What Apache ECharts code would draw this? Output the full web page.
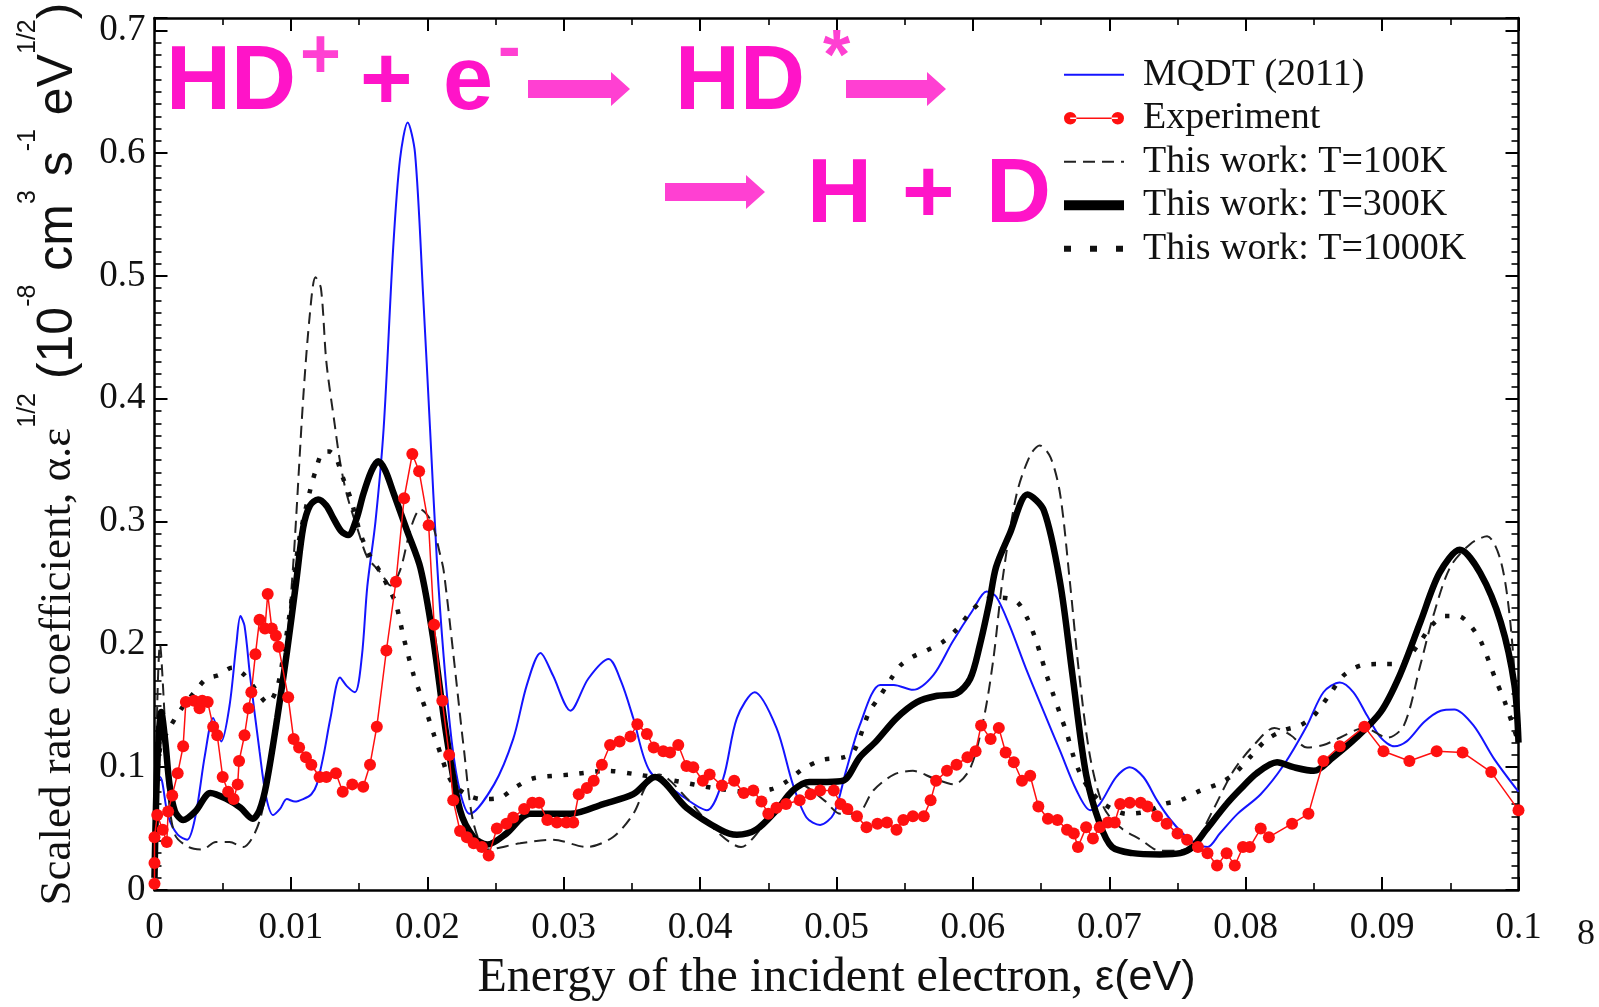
<!DOCTYPE html>
<html>
<head>
<meta charset="utf-8">
<script src="https://cdn.jsdelivr.net/npm/echarts@6/dist/echarts.min.js"></script>
<style>html,body{margin:0;padding:0;background:#fff}#c{width:1599px;height:1007px}</style>
</head>
<body>
<div id="c"></div>
<script>
const xTickLabels = ['0','0.01','0.02','0.03','0.04','0.05','0.06','0.07','0.08','0.09','0.1'];
const yTickLabels = ['0','0.1','0.2','0.3','0.4','0.5','0.6','0.7'];
const seriesNames = ['MQDT (2011)','Experiment','This work: T=100K','This work: T=300K','This work: T=1000K'];

const mqdt = [[0,0.085],[0.0004,0.092],[0.001,0.06],[0.0017,0.045],[0.0024,0.041],[0.003,0.06],[0.0037,0.11],[0.0043,0.14],[0.0049,0.121],[0.0055,0.15],[0.006,0.2],[0.0063,0.223],[0.0066,0.215],[0.007,0.175],[0.0077,0.113],[0.0082,0.075],[0.0087,0.061],[0.0092,0.066],[0.0097,0.074],[0.0103,0.072],[0.0109,0.074],[0.0115,0.078],[0.0119,0.086],[0.0124,0.11],[0.0129,0.14],[0.0136,0.173],[0.0141,0.166],[0.0147,0.161],[0.0152,0.19],[0.0156,0.247],[0.0162,0.3],[0.0168,0.376],[0.0175,0.523],[0.018,0.595],[0.01856,0.625],[0.0191,0.6],[0.0197,0.483],[0.0202,0.376],[0.0207,0.269],[0.0212,0.19],[0.0218,0.12],[0.0224,0.08],[0.0231,0.062],[0.0249,0.086],[0.0263,0.123],[0.0273,0.167],[0.0283,0.193],[0.0292,0.175],[0.0305,0.146],[0.0318,0.172],[0.0333,0.188],[0.0342,0.17],[0.0351,0.14],[0.0363,0.097],[0.0385,0.078],[0.0405,0.065],[0.0417,0.091],[0.0427,0.14],[0.044,0.161],[0.0456,0.132],[0.0468,0.086],[0.0478,0.059],[0.0488,0.053],[0.0498,0.062],[0.0507,0.097],[0.0517,0.134],[0.0532,0.167],[0.0542,0.167],[0.0556,0.163],[0.0571,0.175],[0.0585,0.202],[0.06,0.228],[0.061,0.243],[0.0617,0.239],[0.0627,0.215],[0.0639,0.18],[0.0652,0.145],[0.0664,0.113],[0.0676,0.081],[0.0686,0.065],[0.0693,0.07],[0.0705,0.092],[0.0715,0.1],[0.0725,0.092],[0.0735,0.073],[0.0745,0.057],[0.0757,0.043],[0.0772,0.035],[0.0781,0.046],[0.0794,0.062],[0.0811,0.078],[0.0828,0.102],[0.0845,0.134],[0.0857,0.161],[0.0869,0.169],[0.0879,0.161],[0.0889,0.142],[0.0899,0.124],[0.0909,0.117],[0.0918,0.121],[0.0931,0.137],[0.0943,0.146],[0.0953,0.147],[0.0967,0.134],[0.0982,0.107],[0.1,0.08]];

const experiment = [[0,0.005],[0,0.022],[0,0.043],[0.0002,0.061],[0.0006,0.049],[0.0009,0.039],[0.001,0.064],[0.0013,0.077],[0.0017,0.095],[0.0021,0.117],[0.0023,0.153],[0.0029,0.154],[0.0033,0.148],[0.0035,0.154],[0.0039,0.153],[0.0043,0.133],[0.0046,0.126],[0.005,0.092],[0.0054,0.08],[0.0058,0.074],[0.0061,0.086],[0.0062,0.105],[0.0066,0.126],[0.0069,0.148],[0.0071,0.161],[0.0074,0.192],[0.0077,0.22],[0.0081,0.213],[0.0083,0.241],[0.0086,0.213],[0.0089,0.207],[0.0091,0.198],[0.0098,0.157],[0.0102,0.123],[0.0106,0.116],[0.0111,0.108],[0.0115,0.102],[0.0121,0.092],[0.0126,0.092],[0.0133,0.095],[0.0138,0.08],[0.0145,0.086],[0.0153,0.084],[0.0158,0.102],[0.0163,0.133],[0.017,0.195],[0.0177,0.251],[0.0183,0.319],[0.0189,0.355],[0.0194,0.341],[0.0201,0.297],[0.0205,0.216],[0.0211,0.154],[0.0216,0.11],[0.0219,0.073],[0.0224,0.048],[0.0229,0.043],[0.0234,0.038],[0.024,0.035],[0.0245,0.028],[0.0251,0.05],[0.0258,0.054],[0.0263,0.059],[0.0271,0.066],[0.0277,0.071],[0.0282,0.071],[0.0288,0.057],[0.0295,0.055],[0.0302,0.055],[0.0307,0.055],[0.0311,0.078],[0.0317,0.083],[0.0322,0.089],[0.0328,0.102],[0.0334,0.118],[0.0341,0.121],[0.0349,0.125],[0.0354,0.135],[0.0361,0.127],[0.0366,0.116],[0.0373,0.113],[0.0378,0.112],[0.0384,0.118],[0.039,0.101],[0.0395,0.1],[0.0402,0.089],[0.0407,0.094],[0.0416,0.085],[0.0425,0.089],[0.0432,0.079],[0.0439,0.081],[0.0445,0.072],[0.045,0.062],[0.0456,0.067],[0.0463,0.07],[0.0473,0.073],[0.0481,0.078],[0.0488,0.081],[0.0498,0.081],[0.0503,0.07],[0.0508,0.066],[0.0515,0.06],[0.0522,0.051],[0.053,0.054],[0.0537,0.055],[0.0544,0.049],[0.0549,0.057],[0.0556,0.06],[0.0564,0.06],[0.0569,0.073],[0.0573,0.089],[0.0581,0.097],[0.0588,0.102],[0.0596,0.108],[0.0602,0.113],[0.0606,0.134],[0.0613,0.123],[0.0619,0.132],[0.0624,0.112],[0.063,0.104],[0.0636,0.089],[0.0642,0.093],[0.0648,0.068],[0.0655,0.058],[0.0662,0.057],[0.0669,0.049],[0.0674,0.046],[0.0677,0.035],[0.0683,0.051],[0.0688,0.042],[0.0693,0.051],[0.0699,0.055],[0.0704,0.055],[0.0708,0.07],[0.0715,0.071],[0.0723,0.071],[0.0728,0.068],[0.0735,0.06],[0.0742,0.054],[0.075,0.046],[0.0757,0.041],[0.0765,0.035],[0.0772,0.03],[0.0779,0.02],[0.0786,0.03],[0.0792,0.02],[0.0798,0.035],[0.0803,0.035],[0.0811,0.05],[0.0817,0.043],[0.0834,0.054],[0.0846,0.062],[0.0857,0.105],[0.0869,0.117],[0.0887,0.133],[0.0901,0.113],[0.092,0.105],[0.094,0.113],[0.0959,0.112],[0.098,0.096],[0.1,0.065]];

const t100 = [[0,0.0],[0.0002,0.15],[0.0004,0.2],[0.0007,0.15],[0.001,0.08],[0.0015,0.045],[0.0025,0.035],[0.0035,0.033],[0.0045,0.039],[0.0055,0.039],[0.0065,0.035],[0.0072,0.043],[0.0078,0.06],[0.0085,0.1],[0.0092,0.15],[0.0097,0.2],[0.0102,0.27],[0.0109,0.4],[0.0114,0.47],[0.0118,0.499],[0.0122,0.49],[0.0126,0.43],[0.0132,0.38],[0.0136,0.349],[0.0141,0.322],[0.015,0.29],[0.0156,0.271],[0.0166,0.258],[0.0173,0.248],[0.018,0.26],[0.0188,0.295],[0.0195,0.31],[0.0203,0.3],[0.0209,0.275],[0.0212,0.26],[0.0219,0.193],[0.0227,0.113],[0.0234,0.054],[0.0244,0.033],[0.0268,0.038],[0.0292,0.041],[0.0317,0.035],[0.0336,0.043],[0.0351,0.062],[0.0361,0.086],[0.037,0.094],[0.039,0.075],[0.041,0.05],[0.043,0.035],[0.0444,0.049],[0.0459,0.07],[0.0473,0.086],[0.0491,0.073],[0.0503,0.062],[0.0515,0.062],[0.0527,0.081],[0.0542,0.094],[0.0556,0.097],[0.0571,0.091],[0.0586,0.086],[0.0598,0.099],[0.0608,0.14],[0.0615,0.188],[0.0622,0.255],[0.0632,0.322],[0.0642,0.354],[0.0649,0.362],[0.0657,0.352],[0.0664,0.322],[0.0671,0.252],[0.0678,0.175],[0.0686,0.108],[0.0696,0.067],[0.0708,0.051],[0.0723,0.041],[0.0737,0.032],[0.075,0.032],[0.0762,0.037],[0.0776,0.065],[0.0791,0.097],[0.0806,0.118],[0.0821,0.132],[0.0833,0.126],[0.0845,0.116],[0.0857,0.118],[0.0869,0.124],[0.0887,0.132],[0.0904,0.124],[0.0916,0.134],[0.0928,0.183],[0.0938,0.225],[0.095,0.263],[0.0965,0.282],[0.0977,0.288],[0.0987,0.268],[0.0994,0.218],[0.1,0.13]];

const t300 = [[0,0.01],[0.0002,0.1],[0.0005,0.145],[0.0008,0.12],[0.0011,0.086],[0.0015,0.064],[0.0021,0.057],[0.003,0.064],[0.0041,0.079],[0.0053,0.074],[0.0063,0.067],[0.0072,0.058],[0.0077,0.065],[0.0082,0.086],[0.009,0.14],[0.0097,0.193],[0.0104,0.252],[0.0109,0.295],[0.0114,0.313],[0.012,0.318],[0.0126,0.313],[0.0131,0.303],[0.0137,0.292],[0.0142,0.289],[0.0148,0.302],[0.0153,0.322],[0.0159,0.341],[0.0164,0.349],[0.0169,0.342],[0.0175,0.324],[0.0185,0.293],[0.0195,0.262],[0.0204,0.207],[0.0214,0.126],[0.0224,0.065],[0.0234,0.043],[0.0244,0.037],[0.0258,0.046],[0.0275,0.062],[0.0305,0.062],[0.0329,0.07],[0.0351,0.078],[0.0367,0.092],[0.039,0.067],[0.0415,0.049],[0.0427,0.045],[0.0441,0.049],[0.0456,0.065],[0.0468,0.081],[0.048,0.088],[0.0493,0.088],[0.0505,0.089],[0.0517,0.108],[0.0529,0.121],[0.0544,0.14],[0.0559,0.153],[0.0573,0.158],[0.0588,0.16],[0.0598,0.172],[0.0605,0.199],[0.0612,0.234],[0.0617,0.263],[0.0627,0.29],[0.064,0.322],[0.0652,0.309],[0.0664,0.25],[0.0673,0.175],[0.0683,0.094],[0.0693,0.054],[0.0702,0.035],[0.0717,0.03],[0.0737,0.029],[0.0752,0.03],[0.0761,0.035],[0.0771,0.049],[0.0786,0.07],[0.0796,0.082],[0.0808,0.095],[0.0823,0.104],[0.0835,0.1],[0.085,0.097],[0.0864,0.108],[0.0881,0.124],[0.0899,0.145],[0.0913,0.175],[0.0928,0.218],[0.0942,0.258],[0.0957,0.277],[0.0972,0.258],[0.0987,0.218],[0.0997,0.167],[0.1,0.12]];

const t1000 = [[0,0.06],[0.0004,0.115],[0.001,0.13],[0.002,0.148],[0.003,0.162],[0.0038,0.172],[0.0047,0.175],[0.0057,0.181],[0.0066,0.175],[0.0075,0.162],[0.0083,0.152],[0.009,0.165],[0.0095,0.195],[0.0101,0.24],[0.0106,0.285],[0.0114,0.325],[0.0118,0.341],[0.0123,0.356],[0.0128,0.357],[0.0133,0.352],[0.0138,0.336],[0.0144,0.318],[0.0151,0.29],[0.0158,0.272],[0.0166,0.258],[0.0172,0.245],[0.0177,0.233],[0.0183,0.204],[0.019,0.175],[0.0195,0.159],[0.02,0.143],[0.0205,0.126],[0.021,0.11],[0.0215,0.094],[0.022,0.085],[0.023,0.077],[0.024,0.074],[0.0253,0.075],[0.0265,0.084],[0.0278,0.091],[0.0305,0.094],[0.0332,0.097],[0.0354,0.094],[0.0381,0.089],[0.041,0.083],[0.0435,0.08],[0.0452,0.082],[0.0463,0.088],[0.0476,0.099],[0.049,0.106],[0.0505,0.108],[0.0512,0.112],[0.0517,0.124],[0.0524,0.145],[0.0532,0.158],[0.054,0.172],[0.0547,0.183],[0.0556,0.19],[0.0566,0.195],[0.0578,0.202],[0.0588,0.212],[0.0598,0.226],[0.0608,0.236],[0.062,0.238],[0.0632,0.235],[0.064,0.221],[0.0646,0.204],[0.065,0.19],[0.0654,0.175],[0.0659,0.159],[0.0664,0.143],[0.0669,0.127],[0.0674,0.108],[0.0679,0.094],[0.0686,0.081],[0.0696,0.07],[0.0713,0.062],[0.0728,0.064],[0.074,0.07],[0.0752,0.073],[0.0767,0.081],[0.0779,0.086],[0.0791,0.094],[0.0803,0.108],[0.0815,0.122],[0.0828,0.13],[0.084,0.134],[0.085,0.142],[0.0862,0.16],[0.0872,0.175],[0.0885,0.183],[0.0899,0.184],[0.0913,0.184],[0.0926,0.199],[0.0936,0.215],[0.0946,0.223],[0.0956,0.223],[0.0965,0.215],[0.0973,0.201],[0.0983,0.172],[0.099,0.153],[0.1,0.12]];

const SERIF = 'Liberation Serif';
const SANS = 'Liberation Sans';
const PINK = '#ff14c8';
const PINK2 = '#ff40d2';

const chart = echarts.init(document.getElementById('c'), null, {renderer: 'canvas'});

function labelFrom(arr, step) {
  return function (v) {
    const i = Math.round(v / step);
    if (Math.abs(v - i * step) > 1e-7 || i < 0 || i >= arr.length) return '';
    return arr[i];
  };
}

const axisLineStyle = {show: true, onZero: false, lineStyle: {color: '#000', width: 2.5}};
const noLine = {show: false, onZero: false};
const majorTick = {show: true, inside: true, length: 13, lineStyle: {color: '#000', width: 2}};
const minorTickY = {show: true, inside: true, length: 7, lineStyle: {color: '#000', width: 1.6}};
const minorTickX = {show: true, splitNumber: 2, length: 7, lineStyle: {color: '#000', width: 1.6}};

function arrow(x1, x2, y) {
  const sh = 9, hl = 19, hh = 17;
  return {type: 'polygon', shape: {points: [[x1, y - sh], [x2 - hl, y - sh], [x2 - hl, y - hh], [x2, y], [x2 - hl, y + hh], [x2 - hl, y + sh], [x1, y + sh]]},
    style: {fill: PINK2}, z: 100};
}
function ptxt(s, x, y, size, color) {
  return {type: 'text', x: x, y: y, z: 100,
    style: {text: s, fontSize: size, fontWeight: 'bold', fontFamily: SANS, fill: color,
      textAlign: 'left', textVerticalAlign: 'middle', align: 'left', verticalAlign: 'middle'}};
}

const expIcon = 'path://M1,7 a6,6 0 1,0 12,0 a6,6 0 1,0 -12,0 Z M47,7 a6,6 0 1,0 12,0 a6,6 0 1,0 -12,0 Z M7,6.2 L53,6.2 L53,7.8 L7,7.8 Z';

const option = {
  animation: false,
  backgroundColor: '#fff',
  grid: {left: 154.5, right: 80.5, top: 18, bottom: 105.3, containLabel: false},
  xAxis: [
    {type: 'value', min: 0, max: 0.1, interval: 0.01, position: 'bottom',
      axisLine: axisLineStyle, axisTick: majorTick, minorTick: minorTickX,
      splitLine: {show: false}, minorSplitLine: {show: false},
      axisLabel: {show: true, margin: 20, formatter: labelFrom(xTickLabels, 0.01), fontFamily: SERIF, fontSize: 37, color: '#111'},
      name: '{a|Energy of the incident electron, }{b|ε(eV)}', nameLocation: 'middle', nameGap: 64,
      nameTextStyle: {rich: {a: {fontFamily: SERIF, fontSize: 48, color: '#111'}, b: {fontFamily: SANS, fontSize: 43, color: '#111'}}}
    },
    {type: 'value', min: 0, max: 0.1, interval: 0.01, position: 'top',
      axisLine: axisLineStyle, axisTick: majorTick, minorTick: minorTickX,
      splitLine: {show: false}, axisLabel: {show: false}}
  ],
  yAxis: [
    {type: 'value', min: 0, max: 0.71, interval: 0.1, position: 'left',
      axisLine: axisLineStyle, axisTick: majorTick, splitLine: {show: false},
      axisLabel: {show: true, margin: 9, formatter: labelFrom(yTickLabels, 0.1), fontFamily: SERIF, fontSize: 37, color: '#111'},
      name: '{a|Scaled rate coefficient, α.ε}{s|1/2}{b| (10}{s|-8}{b| cm}{s|3}{b| s}{s|-1}{b| eV}{s|1/2}{b|)}',
      nameLocation: 'middle', nameRotate: 90, nameGap: 53,
      nameTextStyle: {rich: {
        a: {fontFamily: SERIF, fontSize: 45, color: '#111', lineHeight: 86},
        b: {fontFamily: SANS, fontSize: 50, color: '#111', lineHeight: 86},
        s: {fontFamily: SANS, fontSize: 25, color: '#111', verticalAlign: 'top'}
      }}
    },
    {type: 'value', min: 0, max: 0.71, interval: 0.1, position: 'right',
      axisLine: axisLineStyle, axisTick: majorTick, splitLine: {show: false}, axisLabel: {show: false}},
    {type: 'value', min: 0, max: 0.71, interval: 0.01, position: 'left',
      axisLine: noLine, axisTick: minorTickY, splitLine: {show: false}, axisLabel: {show: false}},
    {type: 'value', min: 0, max: 0.71, interval: 0.01, position: 'right',
      axisLine: noLine, axisTick: minorTickY, splitLine: {show: false}, axisLabel: {show: false}}
  ],
  legend: {
    orient: 'vertical', left: 1059, top: 53, padding: 0, itemGap: 0,
    itemWidth: 60, itemHeight: 14,
    textStyle: {fontFamily: SERIF, fontSize: 38, color: '#111', lineHeight: 43.5, padding: [0, 0, 0, 14]},
    data: [
      {name: seriesNames[0], itemStyle: {opacity: 0}, lineStyle: {width: 2}},
      {name: seriesNames[1], icon: expIcon},
      {name: seriesNames[2], itemStyle: {opacity: 0}, lineStyle: {width: 2.2}},
      {name: seriesNames[3], itemStyle: {opacity: 0}, lineStyle: {width: 10}},
      {name: seriesNames[4], itemStyle: {opacity: 0}, lineStyle: {width: 6, type: [7, 19]}}
    ]
  },
  series: [
    {name: seriesNames[0], type: 'line', data: mqdt, symbol: 'none', smooth: 0.3, z: 2,
      lineStyle: {color: '#1414ff', width: 2}, itemStyle: {color: '#1414ff'}},
    {name: seriesNames[2], type: 'line', data: t100, symbol: 'none', smooth: 0.3, z: 3,
      lineStyle: {color: '#222', width: 2, type: [12, 7]}, itemStyle: {color: '#222'}},
    {name: seriesNames[4], type: 'line', data: t1000, symbol: 'none', smooth: 0.3, z: 3,
      lineStyle: {color: '#111', width: 4.5, type: [4.5, 11.5]}, itemStyle: {color: '#111'}},
    {name: seriesNames[3], type: 'line', data: t300, symbol: 'none', smooth: 0.3, z: 4,
      lineStyle: {color: '#000', width: 6.5}, itemStyle: {color: '#000'}},
    {name: seriesNames[1], type: 'line', data: experiment, symbol: 'circle', symbolSize: 12, z: 5,
      lineStyle: {color: '#ff1010', width: 1.5}, itemStyle: {color: '#ff1010'}}
  ],
  graphic: [
    ptxt('HD', 166, 84, 90, PINK),
    ptxt('+', 300, 59, 70, PINK2),
    ptxt('+', 360, 84, 90, PINK),
    ptxt('e', 443, 84, 90, PINK),
    ptxt('-', 498, 51, 68, PINK2),
    arrow(528, 630, 89),
    ptxt('HD', 675, 84, 90, PINK),
    ptxt('*', 823, 60, 70, PINK2),
    arrow(846, 946, 89),
    arrow(665, 765, 192),
    ptxt('H', 807, 197, 90, PINK),
    ptxt('+', 902, 197, 90, PINK),
    ptxt('D', 986, 197, 90, PINK),
    {type: 'text', x: 1577, y: 935, style: {text: '8', fontFamily: SERIF, fontSize: 36, fill: '#111', textAlign: 'left', textVerticalAlign: 'middle', align: 'left', verticalAlign: 'middle'}}
  ]
};
chart.setOption(option);
</script>
</body>
</html>
